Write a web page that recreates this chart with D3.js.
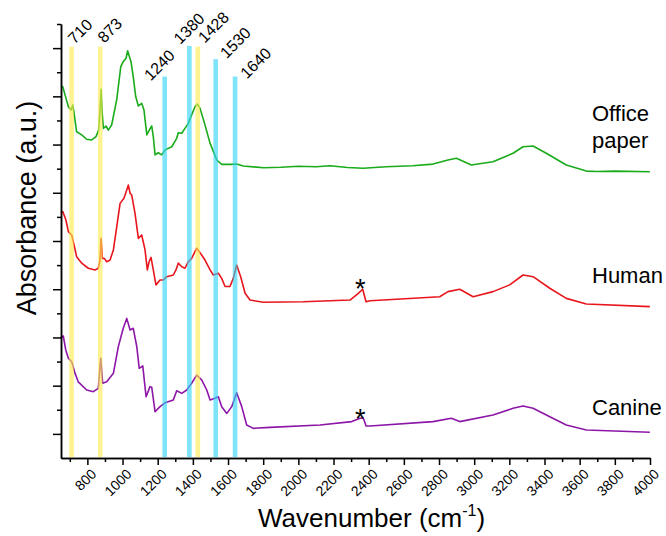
<!DOCTYPE html>
<html>
<head>
<meta charset="utf-8">
<script src="https://cdn.jsdelivr.net/npm/d3@7"></script>
<style>
  html, body { margin: 0; padding: 0; background: #fff; }
  svg { display: block; font-family: "Liberation Sans", Arial, sans-serif; }
</style>
</head>
<body>
<svg id="chart" width="666" height="536"></svg>
<script>
// ---------- data ----------
const paperWn = [650,660,673,692,707,717,724,739,768,796,825,849,864,872,878,883,891,906,919,938,967,990,1004,1020,1029,1039,1048,1061,1075,1090,1109,1122,1138,1152,1166,1175,1185,1203,1223,1242,1280,1308,1317,1337,1355,1374,1393,1412,1425,1441,1469,1498,1536,1564,1611,1649,1687,1801,1900,2000,2100,2180,2280,2368,2500,2650,2766,2851,2899,2984,3107,3221,3278,3335,3410,3524,3638,3700,3800,3999];
const paperAbs = [15.38,15.40,15.06,14.57,14.43,14.64,14.31,13.53,13.40,13.22,13.19,13.33,13.60,14.43,15.29,14.43,13.67,13.77,13.60,13.81,14.86,16.23,16.44,16.58,16.89,16.64,16.44,15.81,14.99,14.60,14.71,14.43,13.40,13.60,13.77,13.33,12.57,12.66,12.57,12.78,12.91,13.26,13.49,13.47,13.67,13.88,14.23,14.57,14.68,14.50,13.81,13.05,12.36,12.18,12.18,12.19,12.11,12.04,12.06,12.10,12.08,12.12,12.05,12.02,12.08,12.12,12.19,12.36,12.43,12.15,12.29,12.64,12.91,12.94,12.64,12.15,11.90,11.88,11.90,11.87];

const humanWn = [650,660,678,692,711,720,739,768,805,843,862,872,878,885,896,910,929,948,967,986,1008,1024,1033,1043,1052,1071,1090,1109,1128,1141,1151,1162,1175,1190,1213,1232,1251,1289,1304,1317,1337,1355,1374,1393,1422,1450,1469,1498,1516,1545,1564,1583,1611,1630,1649,1672,1697,1725,1801,2028,2294,2341,2366,2385,2408,2804,2851,2918,2994,3107,3202,3278,3335,3430,3524,3638,3999];
const humanAbs = [10.15,10.22,9.87,9.39,9.25,8.97,8.35,8.08,7.87,7.80,7.87,8.21,9.11,8.28,8.28,8.14,8.21,8.63,9.59,10.56,10.77,11.12,11.32,10.98,10.91,10.15,9.11,9.25,8.63,7.80,8.14,8.32,7.80,7.18,7.38,7.38,7.52,7.59,7.80,8.08,7.93,7.87,8.14,8.28,8.70,8.42,8.21,7.80,7.59,7.66,7.45,7.11,7.11,7.45,8.00,7.52,6.83,6.55,6.46,6.48,6.55,6.83,7.00,6.48,6.52,6.69,6.90,7.00,6.69,6.90,7.18,7.59,7.52,7.04,6.62,6.39,6.28];

const canineWn = [650,663,677,692,711,730,748,796,834,862,876,887,910,948,976,1004,1024,1043,1061,1081,1095,1115,1134,1156,1166,1185,1213,1242,1289,1308,1337,1365,1393,1422,1450,1479,1498,1526,1545,1564,1593,1621,1649,1678,1706,1744,1839,2123,2304,2351,2370,2385,2408,2766,2870,2918,3107,3221,3278,3335,3430,3524,3638,3999];
const canineAbs = [5.01,5.06,4.48,4.14,3.99,3.51,3.16,2.82,2.75,2.89,4.14,3.10,3.16,3.51,4.62,5.38,5.79,5.31,5.38,4.62,3.72,3.82,2.54,2.96,2.93,1.92,2.13,2.29,2.41,2.79,2.68,2.82,3.10,3.44,3.24,2.82,2.41,2.48,2.54,2.13,1.85,2.13,2.71,2.13,1.37,1.23,1.27,1.37,1.51,1.65,1.65,1.33,1.33,1.51,1.65,1.51,1.78,2.06,2.16,2.06,1.71,1.37,1.16,1.07];

const seriesNames = ["Office paper", "Human", "Canine"];

// marker bands (wavenumber, kind, top in absorbance units)
const bandWn   = [710, 873, 1240, 1380, 1428, 1530, 1640];
const bandKind = ["y", "y", "c", "c", "y", "c", "c"];
const bandTop  = [17.06, 17.06, 15.82, 17.09, 17.06, 16.54, 15.82];
const bandText = ["710", "873", "1240", "1380", "1428", "1530", "1640"];

// asterisk annotations
const starWn  = [2352, 2352];
const starAbs = [6.62, 1.25];

// axis ticks
const xMajor = d3.range(800, 4001, 200);
const xMinor = d3.range(700, 4000, 200);
const yMajor = d3.range(1, 18, 2);
const yMinor = d3.range(2, 19, 2);

// ---------- layout ----------
const svg = d3.select("#chart");
const x = d3.scaleLinear().domain([650, 4000]).range([61, 650]);
const y = d3.scaleLinear().domain([0, 18]).range([458, 24]);

const colors = { "Office paper": "#1aab1a", "Human": "#e8161c", "Canine": "#8d16a8" };
const bandColor = { y: "#ffec4d", c: "#2ed4f5" };
const labelOffset = [[3,-2],[4,-3],[-14,5],[-9,-1],[7,-3],[11,0],[12,3]];

const series = [
  { name: "Office paper", wn: paperWn, abs: paperAbs },
  { name: "Human", wn: humanWn, abs: humanAbs },
  { name: "Canine", wn: canineWn, abs: canineAbs }
];

const line = d3.line().x(d => x(d[0])).y(d => y(d[1]));

svg.append("g").selectAll("path").data(series).join("path")
  .attr("d", s => line(s.wn.map((w, i) => [w, s.abs[i]])))
  .attr("fill", "none")
  .attr("stroke", s => colors[s.name])
  .attr("stroke-width", 1.6)
  .attr("stroke-linejoin", "round");

// bands on top, semi-transparent
const bands = bandWn.map((w, i) => ({ w, kind: bandKind[i], top: bandTop[i], text: bandText[i], off: labelOffset[i] }));
svg.append("g").selectAll("rect").data(bands).join("rect")
  .attr("x", d => x(d.w) - 2.3)
  .attr("width", 4.6)
  .attr("y", d => y(d.top))
  .attr("height", d => y(0) - 1 - y(d.top))
  .attr("fill", d => bandColor[d.kind])
  .attr("fill-opacity", 0.62);

svg.append("g").selectAll("text").data(bands).join("text")
  .attr("transform", d => `translate(${x(d.w) + d.off[0]},${y(d.top) + d.off[1]}) rotate(-45)`)
  .attr("font-size", 16)
  .attr("fill", "#000")
  .text(d => d.text);

// axes
const axisStyle = g => {
  g.selectAll("path.domain").attr("stroke", "#000").attr("stroke-width", 1.5);
  g.selectAll(".tick line").attr("stroke", "#000").attr("stroke-width", 1.5);
};

svg.append("g").attr("transform", `translate(0,${y(0)})`)
  .call(d3.axisBottom(x).tickValues(xMinor).tickSize(4).tickSizeOuter(0).tickFormat(""))
  .call(axisStyle);
svg.append("g").attr("transform", `translate(0,${y(0)})`)
  .call(d3.axisBottom(x).tickValues(xMajor).tickSize(7).tickSizeOuter(0).tickFormat(""))
  .call(axisStyle);

// rotated x tick labels
svg.append("g").selectAll("text").data(xMajor).join("text")
  .attr("transform", d => `translate(${x(d) + 10},${y(0) + 17}) rotate(-45)`)
  .attr("text-anchor", "end")
  .attr("font-size", 14)
  .attr("fill", "#000")
  .text(d => d3.format("d")(d));

svg.append("g").attr("transform", `translate(${x(650)},0)`)
  .call(d3.axisLeft(y).tickValues(yMinor).tickSize(4).tickSizeOuter(0).tickFormat(""))
  .call(axisStyle);
svg.append("g").attr("transform", `translate(${x(650)},0)`)
  .call(d3.axisLeft(y).tickValues(yMajor).tickSize(8).tickSizeOuter(0).tickFormat(""))
  .call(axisStyle);

// series labels
const lab = svg.append("g").attr("font-size", 22).attr("fill", "#000");
lab.append("text").attr("x", 592).attr("y", 121).text("Office");
lab.append("text").attr("x", 592).attr("y", 148).text("paper");
lab.append("text").attr("x", 592).attr("y", 283).text(seriesNames[1]);
lab.append("text").attr("x", 592).attr("y", 415).text(seriesNames[2]);

// asterisks
svg.append("g").selectAll("text").data(starWn).join("text")
  .attr("x", w => x(w))
  .attr("y", (w, i) => y(starAbs[i]))
  .attr("text-anchor", "middle")
  .attr("font-size", 27)
  .attr("fill", "#000")
  .text("*");

// axis titles
const xt = svg.append("text").attr("x", 258).attr("y", 527).attr("font-size", 26).attr("fill", "#000");
xt.append("tspan").text("Wavenumber (cm");
xt.append("tspan").attr("font-size", 16).attr("dy", -11).text("-1");
xt.append("tspan").attr("dy", 11).text(")");

svg.append("text")
  .attr("transform", "translate(36,208) rotate(-90)")
  .attr("text-anchor", "middle")
  .attr("font-size", 27)
  .attr("fill", "#000")
  .text("Absorbance (a.u.)");
</script>
</body>
</html>
